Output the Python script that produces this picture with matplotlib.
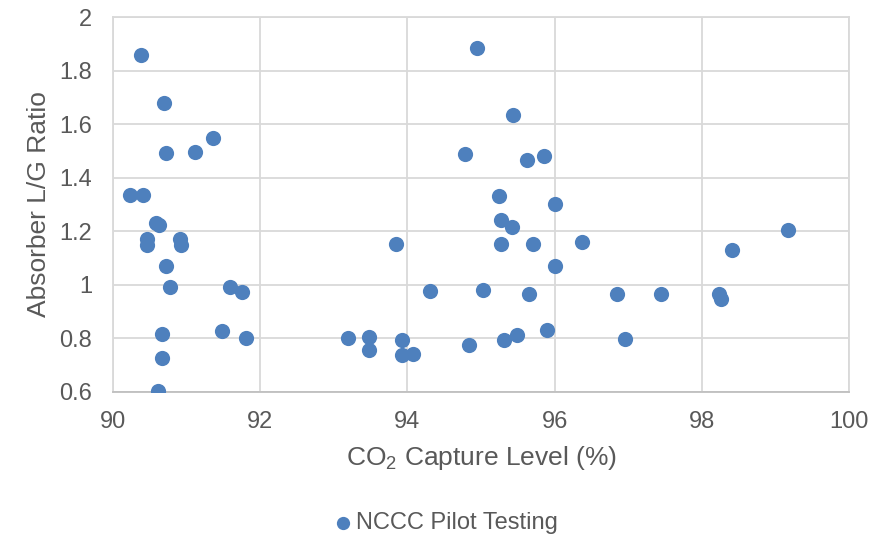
import matplotlib.pyplot as plt

plt.rcParams["font.family"] = ["Liberation Sans", "DejaVu Sans"]
plt.rcParams["mathtext.default"] = "regular"

# CO2 capture level (%) and absorber L/G ratio
capture = [
    90.38, 90.69, 91.36, 90.73, 91.12, 90.23, 90.41, 90.59, 90.63, 90.46,
    90.46, 90.91, 90.93, 90.73, 90.78, 91.59, 91.76, 90.67, 91.48, 91.81,
    90.67, 90.61,
    94.95, 95.44, 94.78, 95.63, 95.86, 95.24, 96.00, 95.27, 95.42, 93.84,
    95.27, 95.71, 96.37, 96.01, 94.31, 95.03, 95.65, 95.89, 93.20, 93.48,
    93.48, 93.93, 93.92, 94.07, 94.84, 95.31, 95.49,
    96.84, 97.44, 96.96, 98.23, 98.25, 98.40, 99.16,
]
lg_ratio = [
    1.859, 1.681, 1.548, 1.492, 1.498, 1.335, 1.335, 1.232, 1.222, 1.172,
    1.148, 1.172, 1.148, 1.070, 0.993, 0.993, 0.973, 0.816, 0.826, 0.799,
    0.725, 0.604,
    1.884, 1.634, 1.489, 1.468, 1.483, 1.333, 1.303, 1.241, 1.215, 1.153,
    1.153, 1.153, 1.159, 1.069, 0.977, 0.982, 0.966, 0.832, 0.799, 0.806,
    0.756, 0.793, 0.736, 0.742, 0.776, 0.794, 0.812,
    0.967, 0.967, 0.797, 0.967, 0.947, 1.130, 1.206,
]

text_color = "#595959"
grid_color = "#D9D9D9"

fig = plt.figure(figsize=(8.84, 5.40), dpi=100)
ax = fig.add_axes([0.1275, 0.2746, 0.8334, 0.6934])

ax.scatter(capture, lg_ratio, s=120, color="#4E80BD", zorder=3,
           linewidths=0, label="NCCC Pilot Testing")

ax.set_xlim(90, 100)
ax.set_ylim(0.6, 2.0)
ax.set_xticks([90, 92, 94, 96, 98, 100])
ax.set_yticks([0.6, 0.8, 1.0, 1.2, 1.4, 1.6, 1.8, 2.0])
ax.set_yticklabels(["0.6", "0.8", "1", "1.2", "1.4", "1.6", "1.8", "2"])

ax.grid(True, color=grid_color, linewidth=1.3, zorder=0)
for side in ["left", "right", "top"]:
    ax.spines[side].set_color(grid_color)
    ax.spines[side].set_linewidth(1.3)
ax.spines["bottom"].set_color("#BFBFBF")
ax.spines["bottom"].set_linewidth(1.3)

ax.tick_params(axis="both", length=0, labelsize=17, colors=text_color)
ax.tick_params(axis="x", pad=14)
ax.tick_params(axis="y", pad=15)

ax.set_xlabel("CO$_2$ Capture Level (%)", fontsize=19, color=text_color)
ax.set_ylabel("Absorber L/G Ratio", fontsize=19, color=text_color)
ax.xaxis.label.set_va("center")
ax.yaxis.label.set_va("center")
ax.xaxis.set_label_coords(0.5, -0.177)
ax.yaxis.set_label_coords(-0.100, 0.5)

leg = fig.legend(loc="center", bbox_to_anchor=(0.505, 0.0315), frameon=False,
                 fontsize=17, handlelength=0.6, handletextpad=0.25,
                 markerscale=0.87, borderpad=0)
for t in leg.get_texts():
    t.set_color(text_color)

fig.savefig("out.png", dpi=100)
